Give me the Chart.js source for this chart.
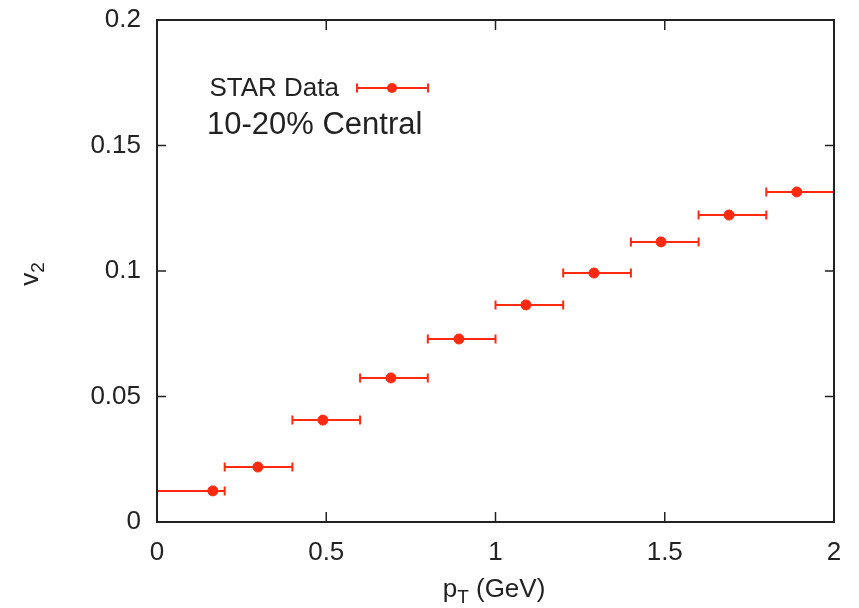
<!DOCTYPE html>
<html>
<head>
<meta charset="utf-8">
<script src="https://cdn.jsdelivr.net/npm/chart.js@4/dist/chart.umd.min.js"></script>
<style>
  body { margin: 0; background: #fff; }
  #wrap { width: 859px; height: 608px; position: relative; }
</style>
</head>
<body>
<div id="wrap"><canvas id="v2chart"></canvas></div>
<script>
// data
const pT     = [0.165, 0.298, 0.49, 0.691, 0.892, 1.09, 1.291, 1.489, 1.69, 1.89];
const v2     = [0.0124, 0.0219, 0.0406, 0.0574, 0.0729, 0.0865, 0.0992, 0.1116, 0.1223, 0.1315];
const pTLow  = [0, 0.2, 0.4, 0.6, 0.8, 1.0, 1.2, 1.4, 1.6, 1.8];
const pTHigh = [0.2, 0.4, 0.6, 0.8, 1.0, 1.2, 1.4, 1.6, 1.8, 2.0];
const xTicks = [0, 0.5, 1, 1.5, 2];
const yTicks = [0, 0.05, 0.1, 0.15, 0.2];

const RED = '#ff2a10';
const INK = '#222';
const FONT = '"Liberation Sans", Arial, sans-serif';

// horizontal error bars with end caps
const errorBars = {
  id: 'errorBars',
  beforeDatasetsDraw(chart) {
    const { ctx, scales: { x, y }, chartArea } = chart;
    ctx.save();
    ctx.beginPath();
    ctx.rect(chartArea.left, chartArea.top, chartArea.width, chartArea.height);
    ctx.clip();
    ctx.strokeStyle = RED;
    ctx.lineWidth = 2;
    for (let i = 0; i < pT.length; i++) {
      const yy = y.getPixelForValue(v2[i]);
      const x1 = x.getPixelForValue(pTLow[i]);
      const x2 = x.getPixelForValue(pTHigh[i]);
      ctx.beginPath();
      ctx.moveTo(x1, yy); ctx.lineTo(x2, yy);
      ctx.moveTo(x1, yy - 4.5); ctx.lineTo(x1, yy + 4.5);
      ctx.moveTo(x2, yy - 4.5); ctx.lineTo(x2, yy + 4.5);
      ctx.stroke();
    }
    ctx.restore();
  }
};

// gnuplot style frame, inward ticks, key and axis titles
const frame = {
  id: 'frame',
  afterDraw(chart) {
    const { ctx, scales: { x, y }, chartArea: a } = chart;
    ctx.save();
    ctx.strokeStyle = INK;
    ctx.lineWidth = 2;
    ctx.strokeRect(a.left, a.top, a.width, a.height);
    ctx.lineWidth = 1.5;
    ctx.beginPath();
    xTicks.forEach(v => {
      const px = x.getPixelForValue(v);
      ctx.moveTo(px, a.bottom); ctx.lineTo(px, a.bottom - 10);
      ctx.moveTo(px, a.top); ctx.lineTo(px, a.top + 10);
    });
    yTicks.forEach(v => {
      const py = y.getPixelForValue(v);
      ctx.moveTo(a.left, py); ctx.lineTo(a.left + 9, py);
      ctx.moveTo(a.right, py); ctx.lineTo(a.right - 9, py);
    });
    ctx.stroke();

    // key
    ctx.fillStyle = INK;
    ctx.font = '26px ' + FONT;
    ctx.textAlign = 'right';
    ctx.textBaseline = 'alphabetic';
    ctx.fillText('STAR Data', 339, 96);
    ctx.strokeStyle = RED;
    ctx.lineWidth = 2;
    ctx.beginPath();
    ctx.moveTo(357, 88); ctx.lineTo(428, 88);
    ctx.moveTo(357, 83.5); ctx.lineTo(357, 92.5);
    ctx.moveTo(428, 83.5); ctx.lineTo(428, 92.5);
    ctx.stroke();
    ctx.fillStyle = RED;
    ctx.beginPath();
    ctx.arc(392, 88, 5, 0, Math.PI * 2);
    ctx.fill();

    ctx.fillStyle = INK;
    ctx.font = '31px ' + FONT;
    ctx.textAlign = 'left';
    ctx.fillText('10-20% Central', 207, 134);

    // x title: p_T (GeV)
    const main = 'p', sub = 'T', rest = ' (GeV)';
    ctx.font = '26px ' + FONT;
    const w1 = ctx.measureText(main).width;
    const w3 = ctx.measureText(rest).width;
    ctx.font = '19px ' + FONT;
    const w2 = ctx.measureText(sub).width;
    const sx = 494 - (w1 + w2 + w3) / 2;
    ctx.font = '26px ' + FONT;
    ctx.fillText(main, sx, 597);
    ctx.font = '19px ' + FONT;
    ctx.fillText(sub, sx + w1, 603);
    ctx.font = '26px ' + FONT;
    ctx.fillText(rest, sx + w1 + w2, 597);

    // y title: v_2 (rotated)
    ctx.translate(38, 274);
    ctx.rotate(-Math.PI / 2);
    ctx.font = '26px ' + FONT;
    const vw = ctx.measureText('v').width;
    ctx.font = '19px ' + FONT;
    const tw = vw + ctx.measureText('2').width;
    ctx.font = '26px ' + FONT;
    ctx.fillText('v', -tw / 2, 0);
    ctx.font = '19px ' + FONT;
    ctx.fillText('2', -tw / 2 + vw, 6);
    ctx.restore();
  }
};

new Chart(document.getElementById('v2chart'), {
  type: 'scatter',
  data: {
    datasets: [{
      label: 'STAR Data',
      data: pT.map((p, i) => ({ x: p, y: v2[i] })),
      backgroundColor: RED,
      borderColor: RED,
      pointRadius: 5,
      pointHoverRadius: 5
    }]
  },
  options: {
    responsive: true,
    maintainAspectRatio: false,
    animation: false,
    layout: { padding: { top: 20, right: 25, left: 0, bottom: 0 } },
    plugins: { legend: { display: false }, tooltip: { enabled: false } },
    scales: {
      x: {
        type: 'linear', min: 0, max: 2,
        afterBuildTicks: s => { s.ticks = xTicks.map(v => ({ value: v })); },
        afterFit: s => { s.height = 86; s.paddingLeft = 0; s.paddingRight = 0; },
        grid: { display: false },
        border: { display: false },
        ticks: { color: INK, padding: 7, font: { family: FONT, size: 26 }, callback: v => String(v) }
      },
      y: {
        type: 'linear', min: 0, max: 0.2,
        afterBuildTicks: s => { s.ticks = yTicks.map(v => ({ value: v })); },
        afterFit: s => { s.width = 157; s.paddingTop = 0; s.paddingBottom = 0; },
        grid: { display: false },
        border: { display: false },
        ticks: { color: INK, padding: 8, font: { family: FONT, size: 26 }, callback: v => String(v) }
      }
    }
  },
  plugins: [errorBars, frame]
});
</script>
</body>
</html>
